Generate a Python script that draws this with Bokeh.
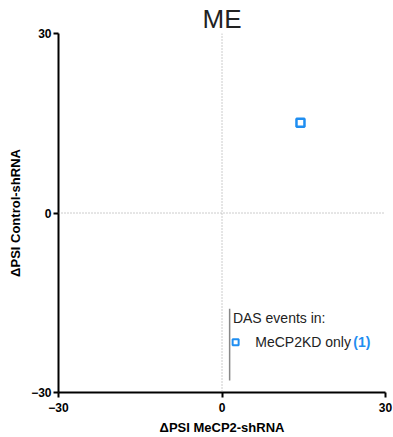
from bokeh.plotting import figure
from bokeh.models import Range1d, FixedTicker, Span, Label, Title
from bokeh.embed import file_html
from bokeh.resources import INLINE

# data
x_vals = [14.4]   # ΔPSI MeCP2-shRNA
y_vals = [15.1]   # ΔPSI Control-shRNA
ticks = [-30, 0, 30]
title_text = "ME"
legend_title = "DAS events in:"
legend_label = "MeCP2KD only"
legend_count = "(1)"

BLUE = "#1f8ef1"
FONT = "Liberation Sans"

p = figure(width=393, height=437, output_backend="svg", toolbar_location=None,
           x_range=Range1d(-30, 30), y_range=Range1d(-30, 30),
           min_border_left=58, min_border_right=8, min_border_top=33, min_border_bottom=45)
p.outline_line_color = None
p.grid.visible = False
p.background_fill_color = "white"
p.border_fill_color = "white"

for ax in (p.xaxis, p.yaxis):
    ax.ticker = FixedTicker(ticks=ticks)
    ax.axis_line_width = 2
    ax.axis_line_color = "black"
    ax.major_tick_line_width = 2
    ax.major_tick_line_color = "black"
    ax.major_tick_out = 5
    ax.major_tick_in = 0
    ax.minor_tick_line_color = None
    ax.major_label_text_font = FONT
    ax.major_label_text_font_style = "bold"
    ax.major_label_text_font_size = "12px"
    ax.major_label_text_color = "black"
    ax.axis_label_text_font = FONT
    ax.axis_label_text_font_style = "bold"
    ax.axis_label_text_font_size = "13px"
    ax.axis_label_text_color = "black"

p.xaxis.axis_label = "ΔPSI MeCP2-shRNA"
p.yaxis.axis_label = "ΔPSI Control-shRNA"
p.xaxis.major_label_standoff = 5
p.yaxis.major_label_standoff = 2
p.xaxis.axis_label_standoff = 5
p.yaxis.axis_label_standoff = 5

p.add_layout(Span(location=0, dimension="height", line_color="#999999", line_dash="1 2", line_width=1))
p.add_layout(Span(location=0, dimension="width", line_color="#999999", line_dash="1 2", line_width=1))

p.scatter(x_vals, y_vals, marker="square", size=8, fill_color="white",
          line_color=BLUE, line_width=2.5)

# title
p.add_layout(Title(text=title_text, align="center", offset=7, standoff=0,
                   text_font=FONT, text_font_size="26px", text_font_style="normal",
                   text_color="#222222", vertical_align="bottom", text_line_height=0.8), "above")

# legend
p.line([1.4, 1.4], [-16.0, -28.0], line_color="#888888", line_width=1.5)
p.add_layout(Label(x=2.0, y=-17.6, text=legend_title, text_align="left", text_baseline="middle",
                   text_font=FONT, text_font_size="14px", text_color="#222222"))
p.scatter([2.5], [-21.6], marker="square", size=6, fill_color="white",
          line_color=BLUE, line_width=2)
p.add_layout(Label(x=6.1, y=-21.6, text=legend_label, text_align="left", text_baseline="middle",
                   text_font=FONT, text_font_size="14px", text_color="#222222"))
p.add_layout(Label(x=24.1, y=-21.6, text=legend_count, text_align="left", text_baseline="middle",
                   text_font=FONT, text_font_size="14px", text_font_style="bold", text_color=BLUE))

open("out.html", "w").write(file_html(p, INLINE))
